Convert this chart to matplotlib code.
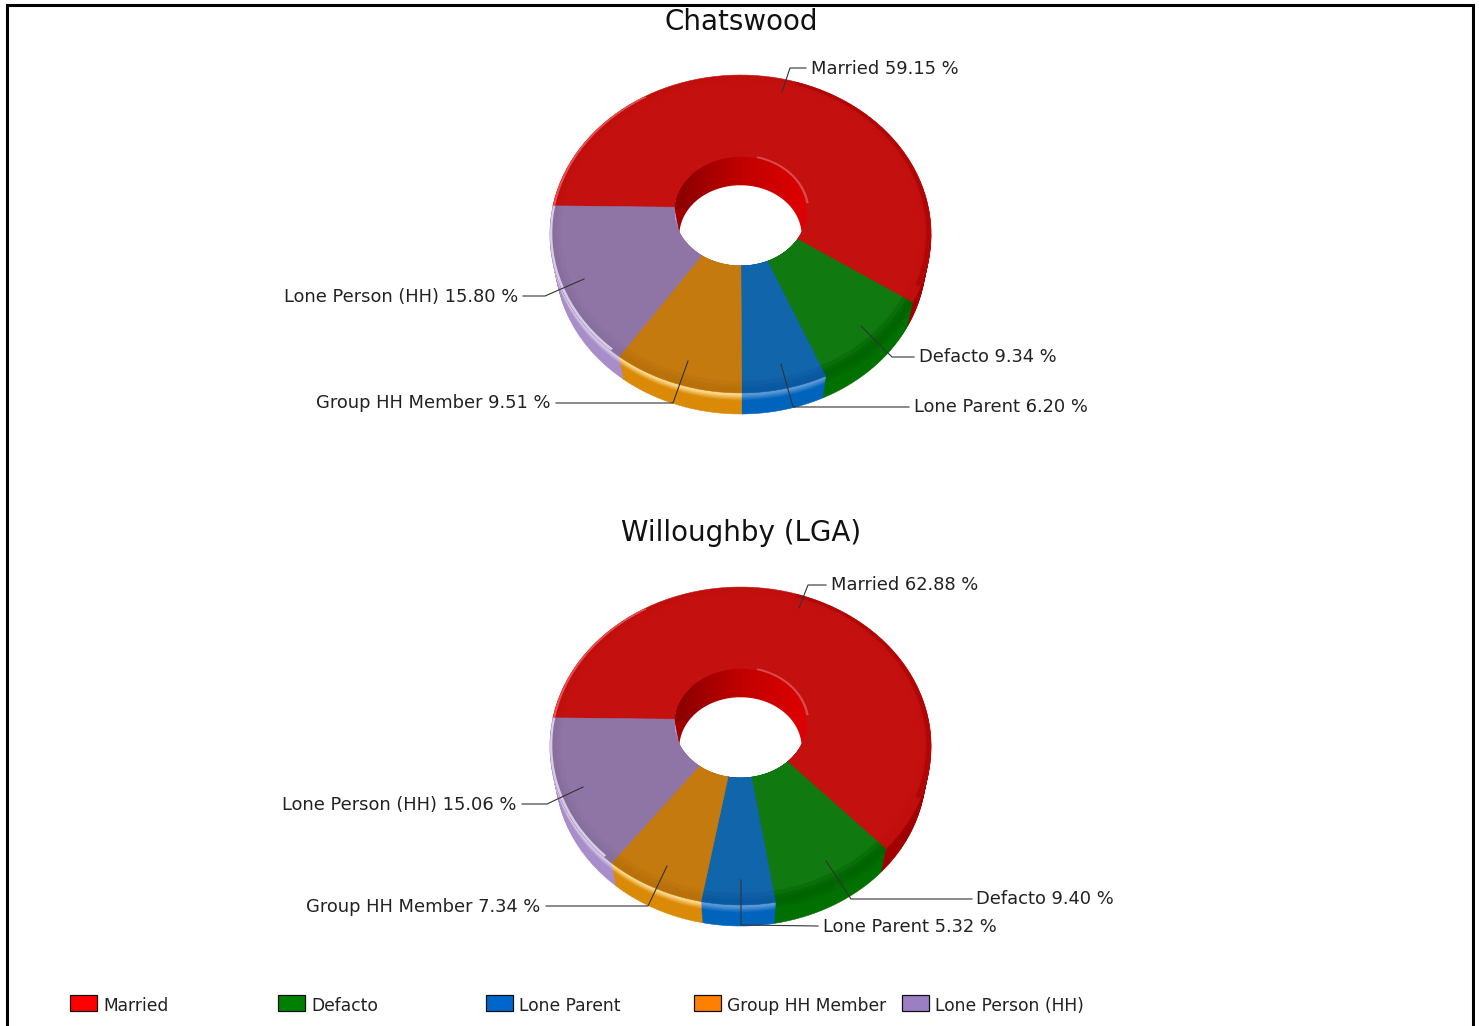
import numpy as np
import matplotlib
matplotlib.use("Agg")
import matplotlib.pyplot as plt
from matplotlib.path import Path
from matplotlib.patches import Rectangle, Wedge
from matplotlib.transforms import Transform
from matplotlib.colors import to_rgb, to_hex

categories = ["Married", "Defacto", "Lone Parent", "Group HH Member", "Lone Person (HH)"]
chatswood = [59.15, 9.34, 6.20, 9.51, 15.80]
willoughby = [62.88, 9.40, 5.32, 7.34, 15.06]
titles = ["Chatswood", "Willoughby (LGA)"]

legend_colors = ["#fe0000", "#008000", "#0066cc", "#ff8000", "#9a7fc4"]
surface = ["#c41110", "#107a10", "#1165ab", "#c47a0e", "#8f75a6"]
bevel = ["#c00e0d", "#006400", "#0a58a0", "#b8700a", "#866f9c"]
highlight = ["#a80000", "#006800", "#5c9ad8", "#ffd98c", "#d8cce8"]
rim = ["#a00000", "#007000", "#0064bc", "#da8a06", "#a78dc9"]

K, R, A = 0.1635, 188.0, 154.7
CX, CY0, DY = 740.5, 208.0, 512.0
START = 179.2


def mix(a, b, f):
    return [to_hex((1 - f) * np.array(to_rgb(p)) + f * np.array(to_rgb(q))) for p, q in zip(a, b)]


class Persp(Transform):
    input_dims = output_dims = 2
    is_affine = False
    has_inverse = False

    def __init__(self, cy, off=0.0):
        super().__init__()
        self.cy, self.off = cy, off

    def transform_non_affine(self, v):
        v = np.asarray(v, float)
        w = 1 + K * v[:, 1]
        return np.c_[CX + R * v[:, 0] / w, self.cy + self.off - A * v[:, 1] / w]

    def transform_path_non_affine(self, path):
        pts = []
        for seg, code in path.iter_bezier():
            if code == Path.MOVETO:
                continue
            pts.append(seg(np.linspace(0, 1, 10)))
        return Path(self.transform_non_affine(np.vstack(pts)))


fig = plt.figure(figsize=(14.79, 10.26), dpi=100, facecolor="white")
ax = fig.add_axes([0, 0, 1, 1])
ax.set_autoscale_on(False)
W, H = 1479, 1026


def reset():
    ax.set_xlim(0, W)
    ax.set_ylim(H, 0)
    ax.axis("off")


reset()


def ring(vals, cols, cy, off, ro, ri, z):
    wedges, _ = ax.pie(vals, colors=cols, radius=ro, startangle=START, counterclock=False,
                       frame=True, wedgeprops=dict(width=ro - ri, edgecolor="none", linewidth=0))
    t = Persp(cy, off) + ax.transData
    for w, c in zip(wedges, cols):
        w.set_transform(t)
        w.set_zorder(z)
        w.set_edgecolor(c)
        w.set_linewidth(0.4)
    return wedges


def arc(cy, r0, r1, a0, a1, color, z, alpha=1.0):
    p = Wedge((0, 0), r1, a0, a1, width=r1 - r0, facecolor=color, edgecolor="none", alpha=alpha, zorder=z)
    ax.add_patch(p)
    p.set_transform(Persp(cy) + ax.transData)


def donut(vals, cy):
    n = 16
    for i, t in enumerate(np.linspace(1, 0, n)):
        f = np.clip((t - 0.05) / 0.3, 0, 1)
        cols = mix(highlight, rim, f)
        ring(vals, cols, cy, 1 + 26 * t, 1 - 0.027 * t, 0.353 - 0.028 * t, 2 + i * 0.01)

    # inner wall of the hole, shaded from left to right
    hole = Wedge((0, 0), 0.353, 0, 360, facecolor="none", edgecolor="none", zorder=3)
    ax.add_patch(hole)
    hole.set_transform(Persp(cy) + ax.transData)
    xs = np.linspace(0, 1, 136)
    c0, c1, c2 = [np.array(to_rgb(c)) for c in ("#860000", "#c00000", "#e00000")]
    img = np.ones((115, 136, 4))
    for j, f in enumerate(xs):
        img[:, j, :3] = c0 + (c1 - c0) * f / 0.5 if f < 0.5 else c1 + (c2 - c1) * (f - 0.5) / 0.5
    img[58:, :68, 3] = 0
    im = ax.imshow(img, extent=(672, 808, cy + 58, cy - 57), aspect="auto", zorder=3, interpolation="bilinear")
    im.set_clip_path(hole)
    w = Wedge((0, 0), 0.325, 0, 360, facecolor="white", edgecolor="none", zorder=3.1)
    ax.add_patch(w)
    w.set_transform(Persp(cy, 25) + ax.transData)

    for r, f, z in ((1.0, 1.0, 4), (0.98, 0.8, 4.02), (0.965, 0.45, 4.04), (0.945, 0.0, 4.06)):
        ring(vals, mix(surface, bevel, f), cy, 0, r, 0.353, z)
    arc(cy, 0.988, 1.0, 125, START, "#e85050", 4.2)
    arc(cy, 0.988, 1.0, START, START + 3.6 * vals[-1] * 0.95, highlight[-1], 4.2)
    arc(cy, 0.353, 0.366, 5, 75, "#ee7070", 4.2, 0.6)
    arc(cy, 0.975, 1.0, -28, 70, "#b00706", 4.15)


def label(text, pts, ha, txt_x):
    xs, ys = zip(*pts)
    ax.plot(xs, ys, color="#333333", lw=0.8, zorder=5, solid_joinstyle="miter")
    ax.text(txt_x, ys[-1] + 0.5, text, ha=ha, va="center", fontsize=12.9, color="#222222",
            family="DejaVu Sans", zorder=6)


donut(chatswood, CY0)
donut(willoughby, CY0 + DY)

leaders = [
    [[(782, 92), (790, 68), (806, 68)], [(861, 326), (892, 357), (914, 357)],
     [(781, 364), (793, 407), (909, 407)], [(688, 361), (673, 403), (556, 403)],
     [(584, 279), (545, 296), (523, 296)]],
    [[(799, 608), (808, 585), (826, 585)], [(826, 861), (851, 899), (972, 899)],
     [(741, 880), (741, 925), (818, 926)], [(667, 866), (648, 906), (546, 906)],
     [(583, 787), (547, 804), (522, 804)]],
]
text_x = [[811, 919, 914, 550, 518], [831, 976, 823, 540, 516]]
sides = ["left", "left", "left", "right", "right"]

for title, y in zip(titles, (22, 533)):
    ax.text(741, y, title, ha="center", va="center", fontsize=20, color="#111111", family="DejaVu Sans")

for vals, lines, xs in zip((chatswood, willoughby), leaders, text_x):
    for cat, v, pts, ha, x in zip(categories, vals, lines, sides, xs):
        label(f"{cat} {v:.2f} %", pts, ha, x)

legend_x = [70, 278, 486, 694, 902]
for cat, col, x in zip(categories, legend_colors, legend_x):
    ax.add_patch(Rectangle((x, 995), 27, 16, facecolor=col, edgecolor="#111111", lw=0.9, zorder=5))
    ax.text(x + 33, 1006, cat, ha="left", va="center", fontsize=12.3, color="#222222", family="DejaVu Sans")

# outer border
ax.plot([7, 7, 1472.5, 1472.5], [H + 5, 4.5, 4.5, H + 5], color="black", lw=2.2,
        solid_joinstyle="miter", clip_on=False, zorder=7)

reset()
fig.savefig("out.png", dpi=100)
